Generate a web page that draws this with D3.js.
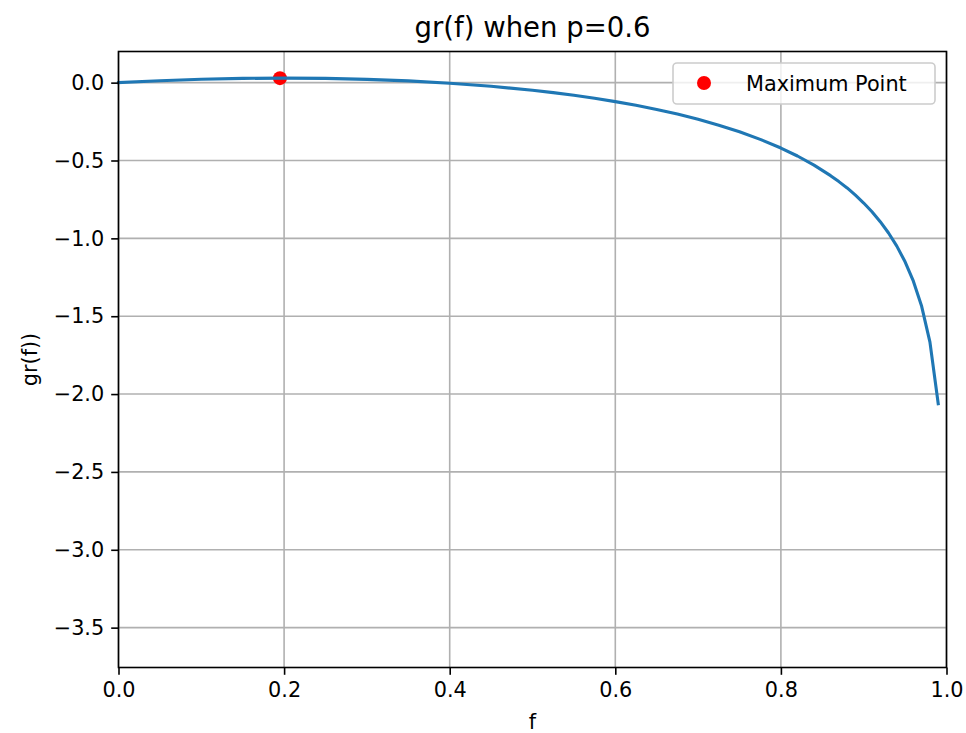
<!DOCTYPE html>
<html>
<head>
<meta charset="utf-8">
<script src="https://cdn.jsdelivr.net/npm/d3@7"></script>
<style>
  body { margin: 0; background: #fff; }
  svg { font-family: "DejaVu Sans", sans-serif; }
</style>
</head>
<body>
<svg id="chart" width="966" height="733"></svg>
<script>
// Growth rate curve gr(f)
const fValues = [0, 0.05, 0.1, 0.15, 0.2, 0.25, 0.3, 0.35, 0.4, 0.45, 0.5, 0.525, 0.55, 0.575, 0.6, 0.625, 0.65, 0.675, 0.7, 0.725, 0.75, 0.775, 0.8, 0.82, 0.84, 0.86, 0.87, 0.88, 0.89, 0.9, 0.91, 0.92, 0.93, 0.94, 0.95, 0.96, 0.97, 0.98, 0.99];
const grValues = [0, 0.0126, 0.0217, 0.0272, 0.029, 0.0271, 0.0213, 0.0112, -0.0035, -0.0234, -0.049, -0.0643, -0.0814, -0.1006, -0.1219, -0.1458, -0.1724, -0.2021, -0.2355, -0.2731, -0.3156, -0.3641, -0.42, -0.4711, -0.5296, -0.5974, -0.6356, -0.676, -0.7227, -0.7732, -0.8294, -0.8929, -0.9655, -1.05, -1.1507, -1.275, -1.4367, -1.6662, -2.0619];

// Maximum point marker
const maxPoint = [0.195, 0.029];

const xTicks = [0, 0.2, 0.4, 0.6, 0.8, 1.0];
const yTicks = [0, -0.5, -1.0, -1.5, -2.0, -2.5, -3.0, -3.5];

const svg = d3.select('#chart');
const margin = {left: 118.5, right: 946.5, top: 51.5, bottom: 667.5};

const x = d3.scaleLinear().domain([0, 1]).range([margin.left, margin.right]);
const y = d3.scaleLinear().domain([-3.756, 0.2]).range([margin.bottom, margin.top]);

const fmt = d3.format('.1f');

// Grid
svg.append('g').
  selectAll('line').data(xTicks).join('line').
    attr('x1', (d) => x(d)).attr('x2', (d) => x(d)).
    attr('y1', margin.top).attr('y2', margin.bottom).
    attr('stroke', '#b0b0b0').attr('stroke-width', 1.6);
svg.append('g').
  selectAll('line').data(yTicks).join('line').
    attr('x1', margin.left).attr('x2', margin.right).
    attr('y1', (d) => y(d)).attr('y2', (d) => y(d)).
    attr('stroke', '#b0b0b0').attr('stroke-width', 1.6);

// Max point (drawn under the curve, like matplotlib's zorder)
svg.append('circle').
  attr('cx', x(maxPoint[0])).
  attr('cy', y(maxPoint[1])).
  attr('r', 7).
  attr('fill', '#ff0000');

// Curve
const line = d3.line().
  x((d, i) => x(fValues[i])).
  y((d) => y(d));
svg.append('path').
  datum(grValues).
  attr('d', line).
  attr('fill', 'none').
  attr('stroke', '#1f77b4').
  attr('stroke-width', 3.1).
  attr('stroke-linejoin', 'round').
  attr('stroke-linecap', 'square');

// Axes
const xAxis = d3.axisBottom(x).tickValues(xTicks).tickFormat(fmt).tickSize(7.3).tickPadding(7);
const yAxis = d3.axisLeft(y).tickValues(yTicks).tickFormat(fmt).tickSize(7.3).tickPadding(7);

const gx = svg.append('g').attr('transform', `translate(0,${margin.bottom})`).call(xAxis);
const gy = svg.append('g').attr('transform', `translate(${margin.left},0)`).call(yAxis);
[gx, gy].forEach((g) => {
  g.select('.domain').remove();
  g.selectAll('.tick line').attr('stroke', '#000').attr('stroke-width', 1.6);
  g.selectAll('.tick text').
    attr('fill', '#000').
    style('font-size', '20.8px').
    style('font-family', '"DejaVu Sans", sans-serif');
});

// Frame
svg.append('rect').
  attr('x', margin.left).attr('y', margin.top).
  attr('width', margin.right - margin.left).
  attr('height', margin.bottom - margin.top).
  attr('fill', 'none').attr('stroke', '#000').attr('stroke-width', 1.6);

// Title and labels
svg.append('text').
  attr('x', (margin.left + margin.right) / 2).attr('y', 36.5).
  attr('text-anchor', 'middle').
  style('font-size', '27.5px').
  text('gr(f) when p=0.6');
svg.append('text').
  attr('x', (margin.left + margin.right) / 2).attr('y', 729).
  attr('text-anchor', 'middle').
  style('font-size', '20.8px').
  text('f');
svg.append('text').
  attr('transform', `translate(37,${(margin.top + margin.bottom) / 2}) rotate(-90)`).
  attr('text-anchor', 'middle').
  style('font-size', '20.8px').
  text('gr(f))');

// Legend
const legend = svg.append('g');
legend.append('rect').
  attr('x', 673).attr('y', 63).attr('width', 262).attr('height', 41).
  attr('rx', 4).
  attr('fill', '#fff').attr('fill-opacity', 0.8).
  attr('stroke', '#cccccc').attr('stroke-width', 1.6);
legend.append('circle').
  attr('cx', 704).attr('cy', 83).attr('r', 7).
  attr('fill', '#ff0000');
legend.append('text').
  attr('x', 746).attr('y', 90.5).
  style('font-size', '20.8px').
  attr('fill', '#000').
  text('Maximum Point');
</script>
</body>
</html>
